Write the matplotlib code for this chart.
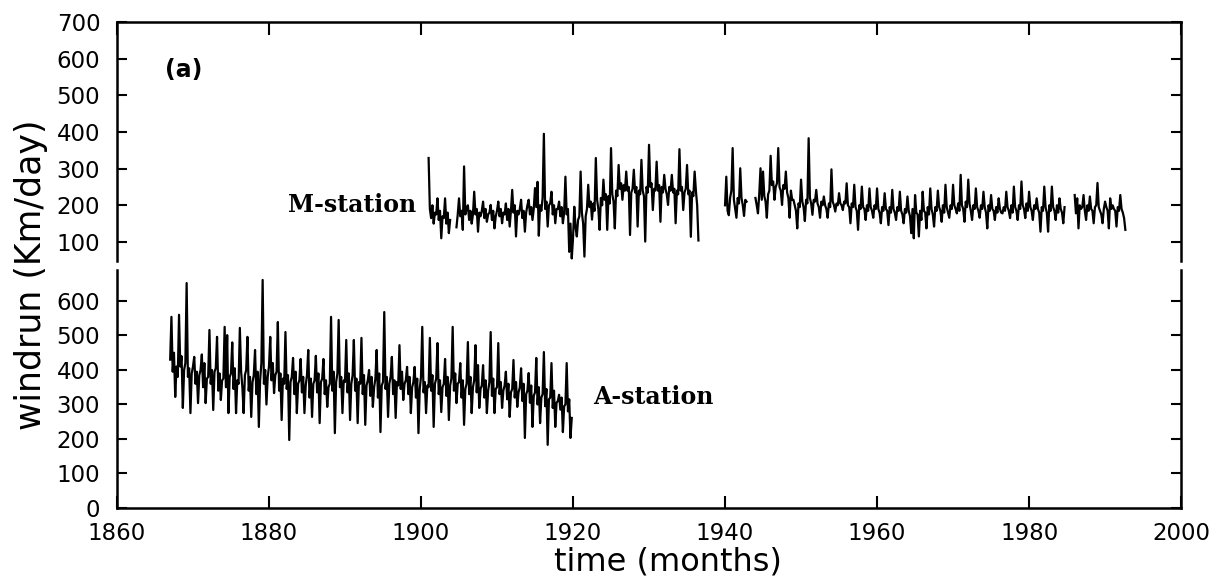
import numpy as np
import matplotlib.pyplot as plt

nan = np.nan

# A-station, 6 values per year from 1867
a_start = 1867
a_windrun = [
    430, 554, 395, 450, 322, 410,  # 1867
    380, 560, 410, 440, 290, 400,
    420, 652, 380, 405, 275, 390,
    410, 438, 360, 395, 304, 385,  # 1870
    400, 445, 350, 420, 304, 375,
    380, 516, 360, 400, 284, 395,
    405, 496, 340, 390, 313, 370,
    375, 525, 350, 501, 275, 380,
    390, 480, 345, 405, 275, 370,  # 1875
    360, 522, 395, 350, 275, 385,
    400, 496, 340, 380, 264, 365,
    385, 458, 330, 395, 235, 370,
    420, 661, 360, 400, 300, 380,
    410, 496, 370, 420, 333, 385,  # 1880
    395, 539, 340, 390, 255, 375,
    360, 510, 345, 385, 197, 365,
    380, 435, 330, 395, 275, 360,
    370, 432, 335, 380, 275, 355,
    385, 458, 320, 375, 264, 360,  # 1885
    370, 441, 335, 390, 246, 365,
    375, 432, 330, 370, 293, 350,
    360, 554, 340, 395, 217, 365,
    390, 545, 350, 380, 275, 370,
    365, 487, 335, 390, 255, 360,  # 1890
    385, 487, 340, 375, 246, 365,
    360, 493, 330, 385, 241, 355,
    370, 400, 325, 380, 293, 350,
    375, 458, 320, 390, 220, 355,
    365, 568, 345, 380, 264, 360,  # 1895
    380, 438, 330, 370, 261, 365,
    355, 472, 345, 395, 313, 360,
    370, 409, 330, 380, 275, 350,
    365, 409, 320, 375, 217, 345,
    380, 525, 335, 365, 275, 355,  # 1900
    350, 493, 340, 385, 235, 360,
    375, 478, 330, 370, 278, 350,
    360, 432, 325, 380, 255, 355,
    375, 525, 340, 390, 304, 360,
    365, 420, 320, 370, 241, 345,  # 1905
    360, 481, 330, 380, 275, 350,
    370, 472, 335, 414, 290, 345,
    355, 414, 320, 370, 275, 340,
    365, 510, 325, 375, 275, 345,
    350, 478, 330, 365, 290, 340,  # 1910
    355, 395, 315, 360, 264, 335,
    345, 429, 320, 365, 293, 335,
    350, 405, 310, 360, 203, 330,
    340, 391, 305, 355, 235, 325,
    335, 435, 300, 350, 246, 320,  # 1915
    330, 452, 295, 345, 183, 315,
    320, 420, 290, 340, 235, 305,
    310, 328, 285, 320, 220, 295,
    300, 420, 280, 315, 203, 261,  # 1919
]

# M-station, 6 values per year from 1901 (nan = no record)
m_start = 1901
m_windrun = [
    329, 190, 165, 200, 150, 180,  # 1901
    175, 219, 160, 185, 110, 170,
    165, 219, 150, 180, 124, 160,
    nan, nan, nan, nan, 140, 175,
    219, 170, 185, 133, 306, 175,  # 1905
    190, 200, 160, 185, 150, 175,
    237, 175, 190, 128, 180, 170,
    185, 210, 165, 190, 155, 175,
    180, 201, 160, 185, 137, 170,
    185, 210, 170, 190, 151, 180,  # 1910
    175, 205, 160, 190, 142, 185,
    242, 180, 200, 115, 185, 175,
    190, 215, 165, 185, 128, 180,
    200, 215, 175, 195, 160, 190,
    247, 195, 264, 117, 200, 185,  # 1915
    220, 395, 190, 210, 142, 200,
    205, 237, 175, 200, 151, 190,
    190, 210, 170, 195, 151, 180,
    278, 175, 190, 73, 150, 55,
    110, 196, 140, 115, 160, 170,  # 1920
    292, 180, 150, 60, 170, 190,
    256, 195, 210, 161, 205, 185,
    329, 215, 190, 133, 220, 200,
    270, 215, 230, 133, 225, 205,
    356, 230, 210, 137, 240, 225,  # 1925
    310, 245, 260, 215, 255, 240,
    292, 240, 250, 119, 235, 245,
    297, 235, 250, 142, 240, 230,
    324, 240, 225, 101, 250, 235,
    365, 250, 260, 187, 245, 240,  # 1930
    319, 240, 255, 155, 250, 235,
    283, 245, 230, 201, 250, 240,
    283, 235, 245, 151, 240, 230,
    353, 240, 250, 187, 235, 245,
    310, 230, 240, 114, 235, 225,  # 1935
    292, 240, 200, 104, nan, nan,
    nan, nan, nan, nan, nan, nan,
    nan, nan, nan, nan, nan, nan,
    nan, nan, nan, nan, nan, nan,
    200, 278, 185, 173, 220, 240,  # 1940
    356, 215, 190, 166, 220, 205,
    301, 220, 200, 171, 215, 210,
    nan, nan, nan, nan, nan, nan,
    220, 200, 178, 230, 301, 215,
    292, 225, 210, 166, 230, 240,  # 1945
    335, 255, 265, 215, 250, 260,
    356, 250, 240, 201, 255, 245,
    292, 235, 220, 166, 240, 215,
    215, 200, 185, 137, 205, 195,
    270, 210, 195, 157, 215, 205,  # 1950
    383, 220, 205, 174, 215, 210,
    242, 205, 195, 166, 210, 200,
    224, 200, 190, 166, 205, 195,
    298, 210, 200, 183, 205, 200,
    233, 205, 200, 187, 210, 205,  # 1955
    260, 200, 195, 151, 205, 195,
    256, 195, 185, 133, 200, 190,
    251, 195, 190, 160, 200, 185,
    246, 195, 185, 166, 200, 190,
    246, 190, 180, 151, 195, 185,  # 1960
    233, 190, 185, 146, 195, 180,
    242, 190, 180, 160, 195, 185,
    237, 185, 175, 151, 190, 180,
    224, 185, 170, 124, 190, 110,
    228, 180, 175, 115, 185, 160,  # 1965
    237, 185, 180, 137, 195, 175,
    246, 190, 175, 142, 195, 185,
    240, 195, 185, 155, 200, 180,
    256, 195, 180, 166, 200, 190,
    256, 200, 190, 178, 205, 185,  # 1970
    283, 200, 190, 155, 210, 195,
    270, 205, 185, 160, 200, 190,
    246, 195, 185, 166, 200, 190,
    237, 195, 180, 137, 200, 185,
    228, 190, 185, 160, 195, 180,  # 1975
    219, 190, 180, 178, 195, 185,
    237, 195, 185, 165, 200, 180,
    251, 195, 185, 160, 200, 190,
    265, 200, 190, 165, 205, 185,
    237, 195, 185, 160, 200, 190,  # 1980
    219, 190, 180, 128, 195, 185,
    251, 195, 180, 128, 200, 185,
    251, 195, 185, 160, 200, 180,
    219, 190, 180, 151, 195, nan,
    nan, nan, nan, nan, nan, nan,  # 1985
    228, 178, 219, 137, 200, 190,
    195, 228, 185, 160, 200, 185,
    224, 190, 185, 151, 195, 200,
    261, 195, 185, 175, 151, 190,
    210, 195, 185, 137, 219, 190,  # 1990
    200, 190, 185, 142, 195, 185,
    228, 190, 180, 165, 133, nan,
]

year_ticks = list(range(1860, 2001, 20))
m_yticks = [100, 200, 300, 400, 500, 600, 700]
a_yticks = [0, 100, 200, 300, 400, 500, 600]

t_a = a_start + np.arange(len(a_windrun)) / 6
t_m = m_start + np.arange(len(m_windrun)) / 6

fig = plt.figure(figsize=(12.12, 5.88), dpi=100)
ax_m = fig.add_axes([0.0965, 0.5561, 0.878, 0.4065])
ax_a = fig.add_axes([0.0965, 0.1361, 0.878, 0.4048])

ax_m.plot(t_m, m_windrun, color='black', lw=1.6)
ax_a.plot(t_a, a_windrun, color='black', lw=1.6)

for ax in (ax_m, ax_a):
    ax.set_xlim(1860, 2000)
    ax.set_xticks(year_ticks)
    for s in ax.spines.values():
        s.set_linewidth(1.8)
    ax.tick_params(axis='y', left=True, right=True, direction='in',
                   length=7, width=1.5, labelsize=16.5, pad=12)
    ax.tick_params(axis='x', direction='in', length=9, width=1.5,
                   labelsize=16.5, pad=10)

ax_m.set_ylim(48, 700)
ax_m.set_yticks(m_yticks)
ax_m.spines['bottom'].set_visible(False)
ax_m.tick_params(axis='x', top=True, bottom=False, labelbottom=False)

ax_a.set_ylim(0, 690)
ax_a.set_yticks(a_yticks)
ax_a.spines['top'].set_visible(False)
ax_a.tick_params(axis='x', top=False, bottom=True)

ax_m.text(0.045, 0.80, '(a)', transform=ax_m.transAxes, fontsize=17,
          fontweight='bold', va='center', ha='left')
ax_m.text(1882.5, 201, 'M-station', fontsize=17, family='DejaVu Serif',
          fontweight='semibold', va='center', ha='left')
ax_a.text(1922.6, 322, 'A-station', fontsize=17, family='DejaVu Serif',
          fontweight='semibold', va='center', ha='left')

fig.text(0.0256, 0.532, 'windrun (Km/day)', rotation=90, fontsize=25,
         ha='center', va='center')
fig.text(668 / 1212, 0.044, 'time (months)', fontsize=23,
         ha='center', va='center')

fig.savefig('out.png', dpi=100)
